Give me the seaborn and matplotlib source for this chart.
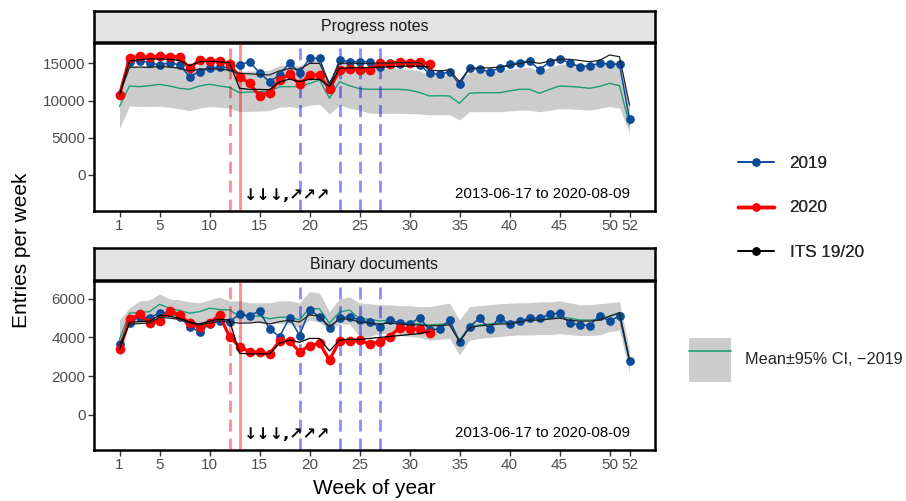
import numpy as np
import pandas as pd
import matplotlib
matplotlib.use("Agg")
import matplotlib.pyplot as plt
import seaborn as sns
from matplotlib.lines import Line2D
from matplotlib.patches import Patch, Rectangle

# ---------------- data ----------------
weeks = list(range(1, 53))
weeks20 = list(range(1, 33))
x_ticks = [1, 5, 10, 15, 20, 25, 30, 35, 40, 45, 50, 52]
pn_yticks = [0, 5000, 10000, 15000]
bd_yticks = [0, 2000, 4000, 6000]
panel_titles = ["Progress notes", "Binary documents"]
date_text = "2013-06-17 to 2020-08-09"
arrow_text = "↓↓↓,↗↗↗"
red_lines = [12, 13]
blue_lines = [19, 23, 25, 27]

# Progress notes
pn_2019 = [10800, 15230, 15360, 15100, 14780, 15100, 14800, 13220, 13900, 14340,
           14470, 14470, 14780, 15230, 13750, 12540, 13440, 15100, 13670, 15680,
           15680, 11870, 15460, 15230, 15230, 15230, 14560, 15100, 14920, 15000,
           14780, 13670, 13530, 13880, 12190, 14340, 14200, 13880, 14340, 14880,
           15100, 15360, 14110, 15230, 15590, 15100, 14560, 14650, 15010, 14920,
           14880, 7490]
pn_2020 = [10750, 15680, 16000, 15820, 16000, 15900, 15900, 14340, 15450, 15360,
           15320, 14920, 13210, 12320, 10620, 11060, 12770, 13530, 12180, 13440,
           13440, 11520, 14110, 14200, 14110, 14110, 15010, 14880, 15230, 15100,
           15230, 14880]
pn_mean = [9200, 11960, 11870, 12000, 12190, 11960, 11650, 11520, 11960, 12200,
           11960, 11780, 11060, 11150, 11200, 11200, 11870, 11870, 11870, 12300,
           12770, 10310, 12540, 12000, 11600, 11520, 11520, 11520, 11520, 11400,
           11100, 10620, 10650, 10620, 9630, 10980, 11060, 11060, 11060, 11300,
           11520, 11520, 10980, 11500, 11960, 11900, 11800, 11650, 11900, 12320,
           12000, 6720]
pn_lo = [6270, 9270, 9200, 9200, 9250, 9100, 8900, 8640, 9000, 9200,
         9100, 9000, 8510, 8550, 8600, 8650, 9100, 9200, 9000, 9400,
         9500, 8200, 9400, 9000, 8700, 8300, 8300, 8300, 8300, 8250,
         8200, 8100, 8100, 8100, 7390, 8510, 8500, 8500, 8500, 8600,
         8700, 8700, 8500, 8700, 8900, 8900, 8800, 8700, 8960, 9200,
         9000, 5640]
pn_hi = [12100, 14700, 14700, 14800, 15000, 14800, 14500, 14300, 14800, 15100,
         14800, 14600, 13900, 14000, 14000, 14100, 14700, 14700, 14700, 15200,
         15700, 12600, 15500, 15000, 14400, 14500, 14400, 14300, 14300, 14200,
         14000, 13500, 13400, 13400, 12540, 13800, 13900, 13900, 14000, 14200,
         14400, 14500, 13900, 14500, 14900, 14900, 14800, 14700, 14900, 15300,
         15100, 9300]
pn_its19 = [10800, 14470, 14500, 14450, 14600, 14500, 14350, 14000, 14200, 14300,
            14200, 14100, 13670, 13600, 13500, 13450, 14000, 14300, 14200, 15000,
            15000, 12320, 15000, 15050, 15000, 15000, 15050, 15050, 15100, 15100,
            15100, 14100, 14000, 14100, 12540, 14340, 14400, 14400, 14500, 14700,
            15000, 15230, 15000, 15300, 15550, 15550, 15400, 15230, 15400, 16130,
            15900, 9400]
pn_its20 = [10750, 15320, 15500, 15600, 15600, 15550, 15400, 14700, 15200, 15300,
            15200, 15100, 11650, 11500, 11500, 11450, 12500, 12900, 12540, 12860,
            12860, 11870, 14340, 14400, 14400, 14450, 14500, 14550, 14600, 14650,
            14600, 14550]

# Binary documents
bd_2019 = [3650, 4770, 5080, 5030, 5260, 5300, 5080, 4560, 4300, 4700,
           4870, 4820, 5200, 5130, 5380, 4440, 4040, 5030, 4100, 5430,
           5080, 4480, 5000, 5080, 4910, 4790, 4560, 4910, 4740, 4690,
           5030, 4390, 4440, 4910, 3780, 4560, 5000, 4440, 5030, 4690,
           4860, 4990, 4990, 5200, 5260, 4740, 4650, 4620, 5130, 4860,
           5100, 2780]
bd_2020 = [3390, 4940, 5200, 4740, 4870, 5380, 5170, 4740, 4530, 4740,
           5170, 4040, 3520, 3260, 3230, 3130, 3820, 3820, 3260, 3580,
           3700, 2830, 3820, 3820, 3870, 3650, 3780, 4040, 4510, 4440,
           4440, 4220]
bd_mean = [3910, 5260, 5300, 5340, 5720, 5520, 5400, 5260, 5340, 5520,
           5450, 5430, 5080, 5150, 5100, 4970, 5050, 5050, 4910, 5520,
           5480, 4740, 5310, 5430, 4970, 4950, 4850, 4900, 4780, 4750,
           4700, 4650, 4680, 4700, 3870, 4560, 4650, 4700, 4750, 4770,
           4850, 4990, 5000, 5000, 5080, 5000, 4910, 4900, 4950, 5100,
           5260, 2830]
bd_lo = [2940, 4800, 4800, 4800, 5150, 5000, 4900, 4750, 4700, 4750,
         5000, 4900, 4820, 4800, 4750, 4700, 4740, 4700, 4500, 4900,
         4800, 4360, 4700, 4700, 4050, 4050, 4200, 4200, 4100, 4050,
         4000, 3870, 3900, 3950, 3090, 3870, 3950, 4000, 4050, 4100,
         4130, 4130, 4150, 4150, 4200, 4150, 4100, 4100, 4130, 4300,
         4390, 2140]
bd_hi = [4910, 5530, 5900, 5950, 6260, 6000, 5950, 5850, 5800, 5950,
         6100, 5900, 5900, 5800, 5800, 5800, 5900, 5900, 5800, 6380,
         6300, 5340, 6000, 6100, 5800, 5750, 5700, 5700, 5650, 5650,
         5600, 5600, 5700, 5780, 4910, 5600, 5650, 5700, 5750, 5780,
         5800, 5800, 5850, 5850, 5900, 5800, 5700, 5700, 5750, 5800,
         5860, 3300]
bd_its19 = [3600, 4700, 4720, 4750, 5050, 5000, 4950, 4750, 4650, 4750,
            4850, 4800, 4740, 4750, 4800, 4700, 4820, 4900, 4800, 5170,
            5100, 4560, 4970, 4950, 4800, 4750, 4700, 4750, 4700, 4650,
            4650, 4600, 4620, 4650, 3780, 4500, 4600, 4650, 4700, 4700,
            4800, 4900, 4900, 4950, 5000, 4900, 4850, 4850, 4900, 5100,
            5290, 2830]
bd_its20 = [3350, 4800, 4820, 4850, 5150, 5100, 5000, 4800, 4700, 4850,
            4950, 4900, 3180, 3150, 3150, 3150, 3700, 3870, 3750, 3950,
            3950, 3300, 3870, 3900, 3900, 3950, 4000, 4050, 4100, 4150,
            4200, 4300]

# ---------------- style ----------------
sns.set_theme(style="white")
plt.rcParams["font.family"] = ["Liberation Sans", "DejaVu Sans"]

C_BLUE = "#0a4c9a"
C_RED = "#ff0000"
C_GREEN = "#1b9e77"
C_BAND = "#cccccc"
TICK_COL = "#4d4d4d"

W, H = 906, 501
fig = plt.figure(figsize=(W / 100, H / 100), dpi=100)


def fr(x0, y0, x1, y1):
    return [x0 / W, 1 - y1 / H, (x1 - x0) / W, (y1 - y0) / H]


panels = [
    dict(box=(94, 43, 655, 211), strip=(94, 11, 655, 42), ylim=(-4840, 17740),
         yt=pn_yticks, y19=pn_2019, y20=pn_2020, mean=pn_mean, lo=pn_lo, hi=pn_hi,
         its19=pn_its19, its20=pn_its20, title=panel_titles[0]),
    dict(box=(94, 281, 655, 450), strip=(94, 248, 655, 280), ylim=(-1840, 6930),
         yt=bd_yticks, y19=bd_2019, y20=bd_2020, mean=bd_mean, lo=bd_lo, hi=bd_hi,
         its19=bd_its19, its20=bd_its20, title=panel_titles[1]),
]

for p in panels:
    ax = fig.add_axes(fr(*p["box"]))
    ax.set_facecolor("white")
    ax.fill_between(weeks, p["lo"], p["hi"], color=C_BAND, lw=0, zorder=1)
    sns.lineplot(x=weeks, y=p["mean"], ax=ax, color=C_GREEN, lw=1.0, zorder=2, legend=False)
    for w in red_lines:
        ls = (0, (4.3, 2.5)) if w == red_lines[0] else "-"
        ax.axvline(w, color=C_RED, alpha=0.45, lw=2.0, ls=ls, zorder=3)
    for w in blue_lines:
        ax.axvline(w, color="#0000ff", alpha=0.45, lw=2.0, ls=(0, (4.3, 2.5)), zorder=3)
    sns.lineplot(x=weeks, y=p["y19"], ax=ax, color=C_BLUE, lw=1.1, marker="o",
                 markersize=6.3, markeredgewidth=0, zorder=4, legend=False)
    sns.lineplot(x=weeks20, y=p["y20"], ax=ax, color=C_RED, lw=2.3, marker="o",
                 markersize=7, markeredgewidth=0, zorder=5, legend=False)
    sns.lineplot(x=weeks, y=p["its19"], ax=ax, color="#222222", lw=0.9, zorder=6, legend=False)
    sns.lineplot(x=weeks20, y=p["its20"], ax=ax, color="#000000", lw=0.9, zorder=6, legend=False)

    ax.set_xlim(-1.55, 54.55)
    ax.set_ylim(*p["ylim"])
    ax.set_xticks(x_ticks)
    ax.set_xticklabels([str(t) for t in x_ticks], fontsize=11, color=TICK_COL)
    ax.set_yticks(p["yt"])
    ax.set_yticklabels([str(t) for t in p["yt"]], fontsize=11, color=TICK_COL)
    ax.tick_params(axis="both", which="both", length=4, width=1, color="#333333",
                   bottom=True, left=True, pad=2)
    ax.set_xlabel("")
    ax.set_ylabel("")
    for s in ax.spines.values():
        s.set_color("black")
        s.set_linewidth(1.8)

    ax.text(13.4, 0.045, arrow_text, transform=ax.get_xaxis_transform(),
            fontsize=11.5, fontweight="bold", family=["DejaVu Sans"], ha="left",
            va="bottom", color="black", zorder=8)
    ax.text(0.955, 0.06, date_text, transform=ax.transAxes, fontsize=10.8,
            ha="right", va="bottom", color="black", zorder=8)

    sax = fig.add_axes(fr(*p["strip"]))
    sax.set_facecolor("#e3e3e3")
    sax.set_xticks([])
    sax.set_yticks([])
    for s in sax.spines.values():
        s.set_color("black")
        s.set_linewidth(1.8)
    sax.text(0.5, 0.5, p["title"], transform=sax.transAxes, ha="center",
             va="center", fontsize=11.5, color="#1a1a1a")

fig.text(22 / W, 1 - 250 / H, "Entries per week", rotation=90, ha="center",
         va="center", fontsize=15, color="black")
fig.text(374 / W, 1 - 488 / H, "Week of year", ha="center", va="center",
         fontsize=15, color="black")

# legends
h1 = [Line2D([], [], color=C_BLUE, lw=1.2, marker="o", markersize=5),
      Line2D([], [], color=C_RED, lw=2.5, marker="o", markersize=5),
      Line2D([], [], color="black", lw=1.2, marker="o", markersize=5)]
leg1 = fig.legend(h1, ["2019", "2020", "ITS 19/20"], loc="center left",
                  bbox_to_anchor=(723 / W, 1 - 208 / H), frameon=False,
                  fontsize=12.3, labelspacing=1.75, handlelength=2.1,
                  handletextpad=0.9)
fig.add_artist(leg1)
h2 = [(Patch(facecolor=C_BAND, edgecolor="none"), Line2D([], [], color=C_GREEN, lw=1.2))]
fig.legend(h2, ["Mean±95% CI, −2019"], loc="center left",
           bbox_to_anchor=(674 / W, 1 - 360 / H), frameon=False, fontsize=11.7,
           handlelength=2.6, handleheight=3.75, handletextpad=0.85)

fig.savefig("out.png", dpi=100)
